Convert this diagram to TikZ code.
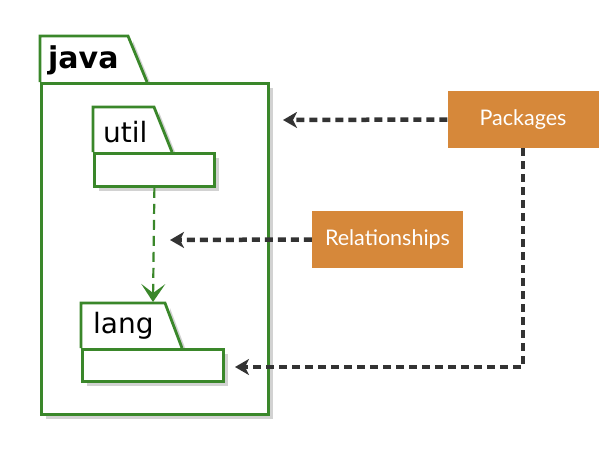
\documentclass[tikz,border=0pt]{standalone}
\usepackage{fontspec}
\setmainfont{DejaVu Sans}
\newfontfamily\notefont{Lato}
\usepackage{xcolor}
\usetikzlibrary{arrows.meta, positioning, shadows}

\definecolor{umlgreen}{RGB}{58,135,42}
\definecolor{noteorange}{RGB}{214,136,58}
\definecolor{callgray}{RGB}{51,51,51}

\begin{document}
\begin{tikzpicture}[
    x=1pt, y=-1pt,
    pkgbody/.style={
      rectangle, draw=umlgreen, line width=2.8pt, fill=white,
      anchor=north west, inner sep=0pt,
      drop shadow={shadow xshift=5pt, shadow yshift=-5pt, fill=black!25, opacity=0.7}
    },
    pkgtab/.style={draw=umlgreen, line width=2.8pt, fill=white},
    tabshade/.style={fill=black!25, opacity=0.7},
    pkgname/.style={anchor=base west, inner sep=0pt, font=\fontsize{28}{32}\selectfont},
    note/.style={
      rectangle, fill=noteorange, text=white, inner sep=0pt,
      minimum width=151pt, minimum height=57pt,
      font=\notefont\fontsize{21.5}{25}\selectfont
    },
    callout/.style={-{Stealth[length=14pt, width=16pt, inset=4pt]}, callgray,
      line width=4.5pt, dash pattern=on 8pt off 5pt},
    depends/.style={-{Stealth[length=18pt, width=24pt, inset=9pt]}, umlgreen,
      line width=2.2pt, dash pattern=on 10pt off 6pt}
  ]
  \useasboundingbox (0,0) rectangle (611,472);

  % java package (outer)
  \fill[tabshade] (133,41) -- (152,87) -- (133,87) -- cycle;
  \draw[pkgtab] (40,82) -- (40,36) -- (128,36) -- (147,82);
  \node[pkgbody, minimum width=227pt, minimum height=331pt] (javabody) at (40,82) {};
  \node[pkgname, font=\bfseries\fontsize{30}{34}\selectfont] (javaname) at (48,68) {java};

  % util package
  \fill[tabshade] (159,112) -- (177,157) -- (159,157) -- cycle;
  \draw[pkgtab] (93,152) -- (93,107) -- (154,107) -- (172,152);
  \node[pkgbody, minimum width=120pt, minimum height=33pt] (utilbody) at (93,152) {};
  \node[pkgname] (utilname) at (103,142) {util};

  % lang package
  \fill[tabshade] (170,308) -- (187,353) -- (170,353) -- cycle;
  \draw[pkgtab] (81,348) -- (81,303) -- (165,303) -- (182,348);
  \node[pkgbody, minimum width=141pt, minimum height=32pt] (langbody) at (81,348) {};
  \node[pkgname] (langname) at (93,333) {lang};

  % dependency util -> lang
  \coordinate (langtop) at (153,302);
  \draw[depends] (utilbody.south) -- (langtop);

  % callouts
  \node[note] (packages) at (523,119.5) {Packages};
  \node[note] (relations) at (387.5,239.5) {Relationships};

  \coordinate (javatip) at (283,120);
  \coordinate (reltip) at (170,240);
  \coordinate (langtip) at (235,367);

  \draw[callout] (packages.west) -- (javatip);
  \draw[callout] (relations.west) -- (reltip);
  \draw[callout] (packages.south) |- (langtip);

\end{tikzpicture}
\end{document}
